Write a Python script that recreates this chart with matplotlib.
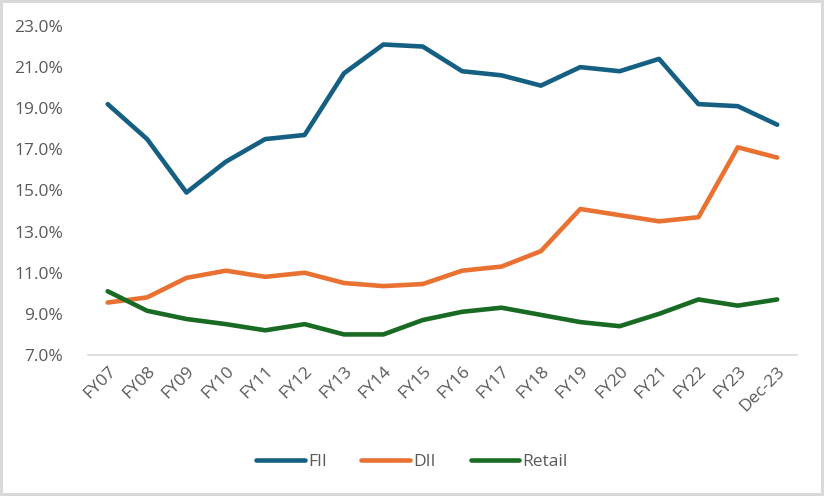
import matplotlib.pyplot as plt
from matplotlib.ticker import FuncFormatter

categories = ["FY07", "FY08", "FY09", "FY10", "FY11", "FY12", "FY13", "FY14", "FY15",
              "FY16", "FY17", "FY18", "FY19", "FY20", "FY21", "FY22", "FY23", "Dec-23"]

fii = [19.2, 17.5, 14.9, 16.4, 17.5, 17.7, 20.7, 22.1, 22.0,
       20.8, 20.6, 20.1, 21.0, 20.8, 21.4, 19.2, 19.1, 18.2]
dii = [9.55, 9.8, 10.75, 11.1, 10.8, 11.0, 10.5, 10.35, 10.45,
       11.1, 11.3, 12.05, 14.1, 13.8, 13.5, 13.7, 17.1, 16.6]
retail = [10.1, 9.15, 8.75, 8.5, 8.2, 8.5, 8.0, 8.0, 8.7,
          9.1, 9.3, 8.95, 8.6, 8.4, 9.0, 9.7, 9.4, 9.7]

plt.rcParams["font.family"] = ["Open Sans", "DejaVu Sans"]

fig = plt.figure(figsize=(8.24, 4.96), dpi=100)
fig.patch.set_edgecolor("#D9D9D9")
fig.patch.set_linewidth(3)
ax = fig.add_axes([0.1068, 0.2843, 0.8603, 0.6633])

x = range(len(categories))
ax.plot(x, fii, color="#156082", linewidth=3.3, label="FII", solid_capstyle="round")
ax.plot(x, dii, color="#E97132", linewidth=3.3, label="DII", solid_capstyle="round")
ax.plot(x, retail, color="#196B24", linewidth=3.3, label="Retail", solid_capstyle="round")

ax.set_xlim(-0.5, len(categories) - 0.5)
ax.set_ylim(7, 23)
ax.set_yticks(range(7, 24, 2))
ax.yaxis.set_major_formatter(FuncFormatter(lambda v, p: f"{v:.1f}%"))
ax.set_xticks(list(x))
ax.set_xticklabels(categories, rotation=45, ha="right", rotation_mode="anchor")

for side in ["top", "right", "left"]:
    ax.spines[side].set_visible(False)
ax.spines["bottom"].set_color("#D9D9D9")
ax.spines["bottom"].set_linewidth(1.2)
ax.tick_params(axis="both", length=0, labelsize=12.5, colors="#595959")
ax.tick_params(axis="y", pad=18)
ax.tick_params(axis="x", pad=6)

fig.legend(loc="lower center", bbox_to_anchor=(0.5, 0.02), ncol=3, frameon=False,
           fontsize=12.5, labelcolor="#595959", handlelength=2.8, handletextpad=0.2,
           columnspacing=2.0)

fig.savefig("out.png", dpi=100)
